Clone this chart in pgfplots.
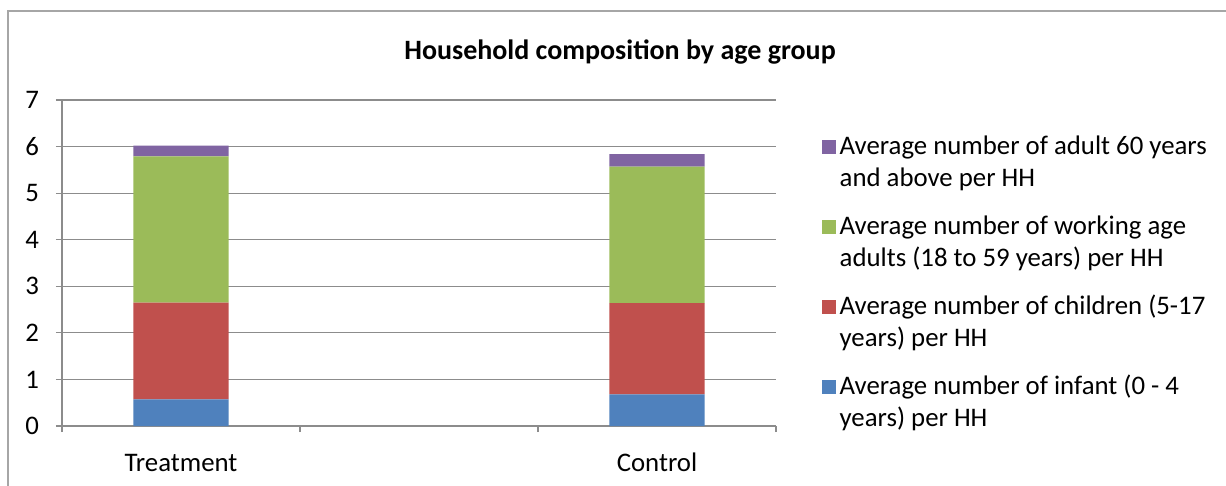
\documentclass[border=0pt]{standalone}
\usepackage{pgfplots}
\usepackage{pgfplotstable}
\pgfplotsset{compat=1.18}
\usepackage{fontspec}
\setmainfont{Carlito}
\definecolor{cInf}{HTML}{4F81BD}
\definecolor{cChi}{HTML}{C0504D}
\definecolor{cWrk}{HTML}{9BBB59}
\definecolor{cOld}{HTML}{8064A2}
\definecolor{gridc}{HTML}{8C8C8C}
\pgfplotstableread{
x infant children working elderly
0 0.57 2.08 3.14 0.23
2 0.68 1.96 2.93 0.27
}\hhdata
\begin{document}
\begin{tikzpicture}
\path[use as bounding box] (0,0) rectangle (613pt,-243pt);
\draw[color=gray!70, line width=0.8pt] (4pt,-243pt) -- (4pt,-5.5pt) -- (613pt,-5.5pt);
\node[font=\fontsize{14}{17}\selectfont\bfseries] at (310pt,-26pt) {Household composition by age group};
\begin{axis}[
  at={(31pt,-213pt)}, anchor=south west,
  scale only axis, width=357pt, height=163pt,
  xmin=-0.5, xmax=2.5, ymin=0, ymax=7,
  ytick={0,1,...,7},
  xtick={-0.5,0.5,1.5,2.5},
  x tick label as interval,
  xticklabels={Treatment,,Control},
  axis lines*=left,
  axis line style={-, gridc, line width=0.6pt},
  ymajorgrids,
  major grid style={gridc, line width=0.6pt},
  major tick style={gridc, line width=0.6pt},
  tick align=outside,
  major tick length=3pt,
  ticklabel style={font=\fontsize{13.4}{16}\selectfont},
  yticklabel style={xshift=-5pt},
  xticklabel style={yshift=-7pt, text height=9pt, text depth=2pt},
  /pgf/number format/assume math mode=true,
  ybar stacked,
  bar width=0.4,
  reverse legend,
  legend cell align=left,
  legend image code/.code={
    \path[draw=none, fill=none] (0pt,-16pt) rectangle (7pt,16pt);
    \fill[#1, draw=none] (0pt,-0.5pt) rectangle (7pt,6.5pt);
  },
  legend style={
    at={(1.055,0.9495)}, anchor=north west, draw=none,
    font=\fontsize{13.4}{16}\selectfont,
    row sep=8pt,
    cells={anchor=west, inner ysep=4pt},
  },
]
\addplot[fill=cInf, draw=none] table[x=x, y=infant] {\hhdata};
\addlegendentry{\begin{tabular}{@{}l@{}}Average number of infant (0 - 4\\years) per HH\end{tabular}}
\addplot[fill=cChi, draw=none] table[x=x, y=children] {\hhdata};
\addlegendentry{\begin{tabular}{@{}l@{}}Average number of children (5-17\\years) per HH\end{tabular}}
\addplot[fill=cWrk, draw=none] table[x=x, y=working] {\hhdata};
\addlegendentry{\begin{tabular}{@{}l@{}}Average number of working age\\adults (18 to 59 years) per HH\end{tabular}}
\addplot[fill=cOld, draw=none] table[x=x, y=elderly] {\hhdata};
\addlegendentry{\begin{tabular}{@{}l@{}}Average number of adult 60 years\\and above per HH\end{tabular}}
\end{axis}
\end{tikzpicture}
\end{document}
